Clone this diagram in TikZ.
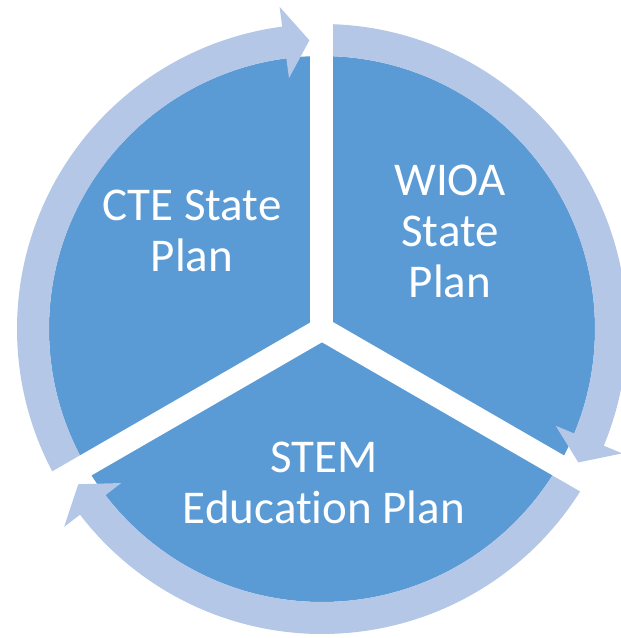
\documentclass[tikz,border=0pt]{standalone}
\usepackage{fontspec}
\newfontfamily\planfont[Ligatures=NoCommon]{Carlito}
\usepackage{tikz}
\usetikzlibrary{calc}
\definecolor{segblue}{RGB}{91,155,213}
\definecolor{ringblue}{RGB}{180,199,231}

\begin{document}
\begin{tikzpicture}[x=1pt, y=1pt,
  seg/.style={fill=segblue},
  ring/.style={fill=ringblue},
  gap/.style={draw=white, line width=23pt},
  lbl/.style={text=white, font=\planfont\fontsize{47}{51}\selectfont, align=center, anchor=base}]
  \useasboundingbox (-322,-309) rectangle (299,329);
  \fill [seg] (0,0) circle (273);
  % the three circular arrows
  \foreach \r in {0,-120,-240}
    \fill [ring, rotate=\r] (210:305) arc [start angle=210, end angle=97.5, radius=305]
      -- (97.5:325) -- (92.5:289) -- (97.5:253) -- (97.5:273)
      arc [start angle=97.5, end angle=210, radius=273] -- cycle;
  \foreach \a in {90,210,330}
    \draw [gap] (0,0) -- (\a:345);
  \fill [white] (0,0) circle (11.5);

  \node (cte) [lbl] at (-130,58) {CTE State\\Plan};
  \node (wioa) [lbl] at (128,32) {WIOA\\State\\Plan};
  \node (stem) [lbl] at (2,-194) {STEM\\Education Plan};
\end{tikzpicture}
\end{document}
